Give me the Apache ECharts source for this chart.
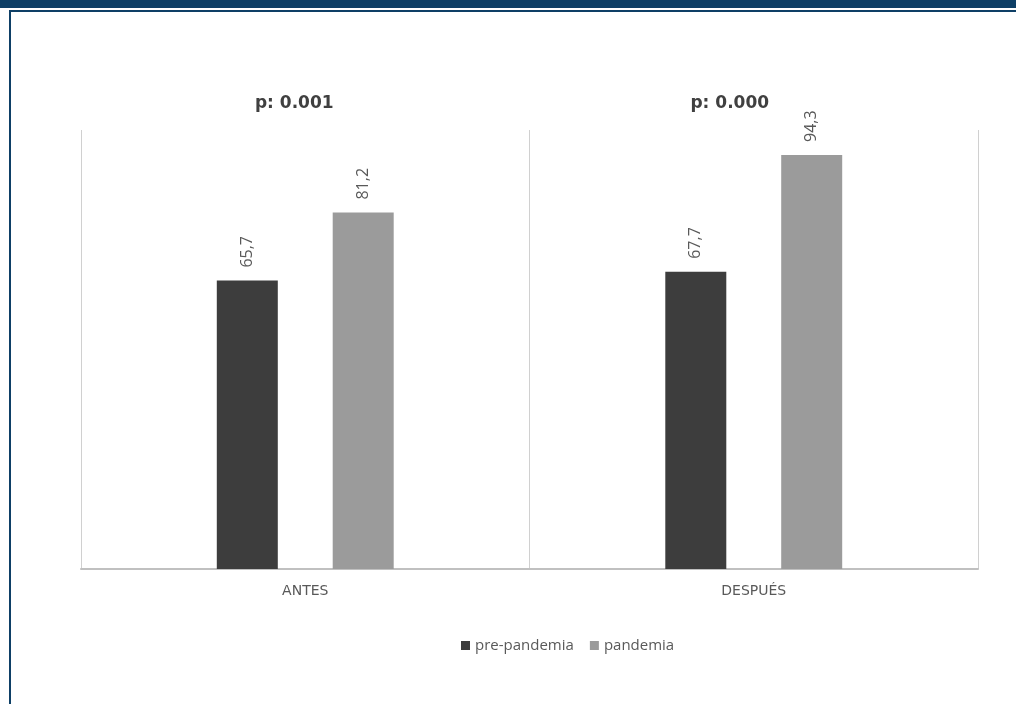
<!DOCTYPE html>
<html>
<head>
<meta charset="utf-8">
<script src="https://cdn.jsdelivr.net/npm/echarts@6/dist/echarts.min.js"></script>
<style>
html,body{margin:0;padding:0;background:#fff;}
#c{width:1016px;height:704px;}
</style>
</head>
<body>
<div id="c"></div>
<script>
const categories = ['ANTES', 'DESPUÉS'];
const seriesNames = ['pre-pandemia', 'pandemia'];
const prePandemia = [65.7, 67.7];
const pandemia = [81.2, 94.3];
const pValues = ['p: 0.001', 'p: 0.000'];

const chart = echarts.init(document.getElementById('c'), null, {renderer: 'canvas'});
const labelCfg = {
  show: true,
  position: 'top',
  rotate: 90,
  align: 'left',
  verticalAlign: 'middle',
  distance: 13,
  color: '#595959',
  fontSize: 16,
  fontFamily: 'Open Sans',
  formatter: p => String(p.value).replace('.', ',')
};
chart.setOption({
  animation: false,
  backgroundColor: '#ffffff',
  grid: {left: 81, right: 38, top: 130, bottom: 135},
  legend: {
    bottom: 46,
    left: 456,
    icon: 'rect',
    itemWidth: 9,
    itemHeight: 9,
    itemGap: 16,
    textStyle: {color: '#595959', fontSize: 15, fontFamily: 'Open Sans'},
    data: seriesNames
  },
  xAxis: {
    type: 'category',
    data: categories,
    axisLine: {show: true, lineStyle: {color: '#c0c0c0', width: 2}},
    axisTick: {show: false},
    axisLabel: {color: '#595959', fontSize: 14, margin: 15, fontFamily: 'DejaVu Sans'},
    splitLine: {show: true, lineStyle: {color: '#d0d0d0', width: 1}}
  },
  yAxis: {
    type: 'value', min: 0, max: 100,
    axisLine: {show: false}, axisTick: {show: false},
    axisLabel: {show: false}, splitLine: {show: false}
  },
  series: [
    {name: seriesNames[0], type: 'bar', data: prePandemia, barWidth: 61, barGap: '90%',
     itemStyle: {color: '#3d3d3d'}, label: labelCfg},
    {name: seriesNames[1], type: 'bar', data: pandemia, barWidth: 61,
     itemStyle: {color: '#9b9b9b'}, label: labelCfg}
  ],
  graphic: [
    {type: 'rect', left: 0, top: 0, shape: {width: 1016, height: 8}, style: {fill: '#0e3f66'}},
    {type: 'rect', left: 9, top: 10, shape: {width: 1007, height: 2}, style: {fill: '#0e3f66'}},
    {type: 'rect', left: 9, top: 10, shape: {width: 2, height: 694}, style: {fill: '#0e3f66'}}
  ]
});
// p-value annotations placed relative to each category position
const pOffsets = [-11, -24];
const extra = categories.map((c, i) => {
  const px = chart.convertToPixel({xAxisIndex: 0}, c);
  return {type: 'text', x: px + pOffsets[i], y: 104,
    style: {text: pValues[i], fill: '#404040', font: 'bold 17px "DejaVu Sans"', textAlign: 'center', textVerticalAlign: 'middle'}};
});
chart.setOption({graphic: chart.getOption().graphic[0].elements.concat(extra)});
</script>
</body>
</html>
